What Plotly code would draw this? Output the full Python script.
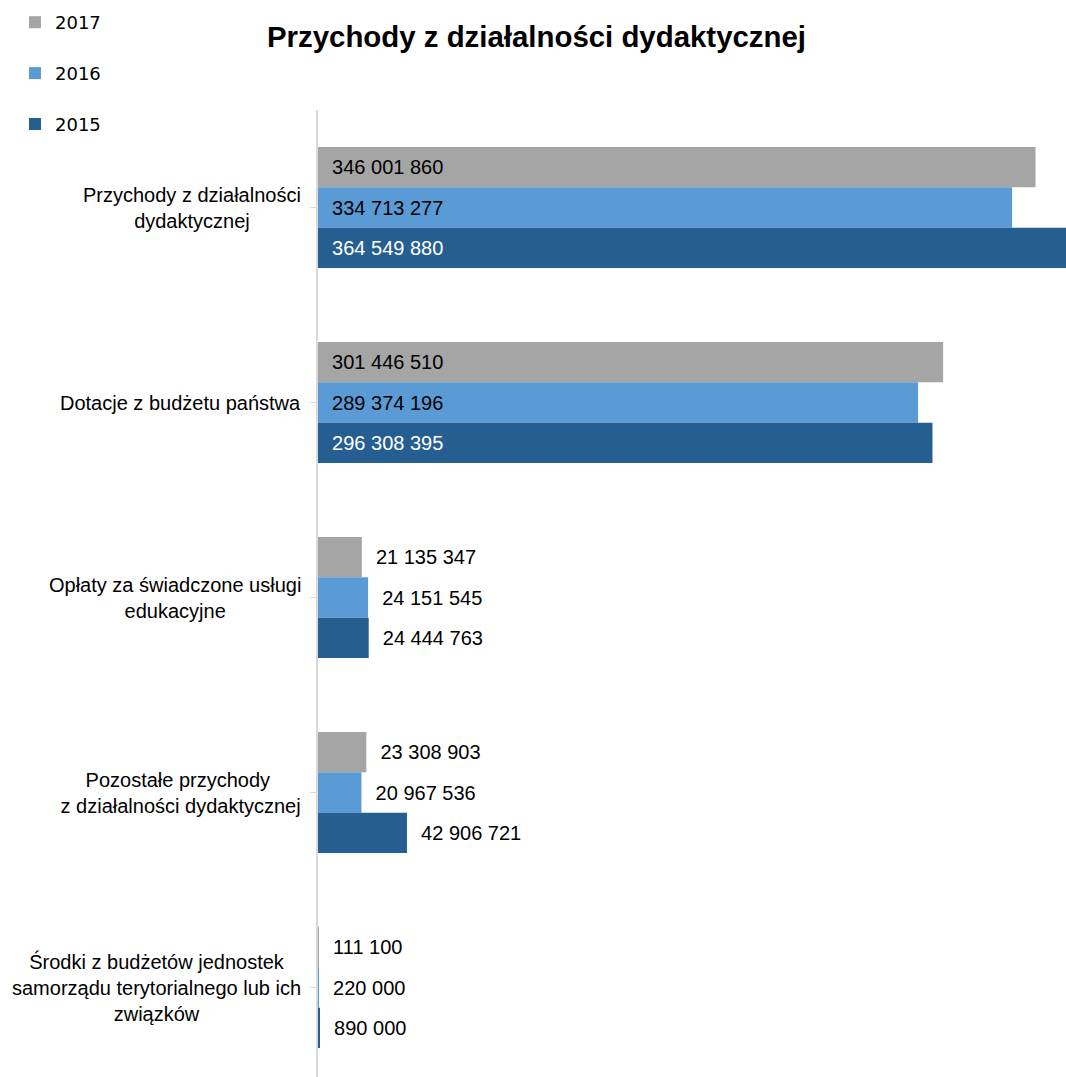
import plotly.graph_objects as go

categories = [
    "Przychody z działalności<br>dydaktycznej",
    "Dotacje z budżetu państwa",
    "Opłaty za świadczone usługi<br>edukacyjne",
    "Pozostałe przychody<br> z działalności dydaktycznej",
    "Środki z budżetów jednostek<br>samorządu terytorialnego lub ich<br>związków",
]
series_names = ["2017", "2016", "2015"]
values_2017 = [346001860, 301446510, 21135347, 23308903, 111100]
values_2016 = [334713277, 289374196, 24151545, 20967536, 220000]
values_2015 = [364549880, 296308395, 24444763, 42906721, 890000]
colors = ["#A5A5A5", "#5B9BD5", "#255E91"]
inside_text_colors = ["#000000", "#000000", "#FFFFFF"]

cat_ids = list(range(len(categories)))

def fmt(v):
    return f"{v:,}".replace(",", " ")

fig = go.Figure()
for name, vals, col, itc in zip(series_names, [values_2017, values_2016, values_2015], colors, inside_text_colors):
    positions = ["inside" if v > 100_000_000 else "outside" for v in vals]
    tcolors = [itc if p == "inside" else "#000000" for p in positions]
    fig.add_trace(go.Bar(
        name=name,
        y=cat_ids,
        x=vals,
        orientation="h",
        marker=dict(color=col, line=dict(width=0)),
        text=["\u00a0\u00a0" + fmt(v) for v in vals],
        textposition=positions,
        insidetextanchor="start",
        textfont=dict(family="Liberation Sans, Arial", size=20, color=tcolors),
        constraintext="none",
        cliponaxis=True,
        legendgroup=name,
        hoverinfo="skip",
    ))

for i, c in enumerate(categories):
    fig.add_annotation(
        x=0, xref="paper", y=i, yref="y",
        text=c, showarrow=False, xanchor="right", yanchor="middle",
        xshift=-15, align="center",
        font=dict(family="Liberation Sans, Arial", size=20, color="#000000"),
    )

fig.update_layout(
    width=1066, height=1077,
    margin=dict(l=318, r=0, t=110, b=0),
    paper_bgcolor="white", plot_bgcolor="white",
    barmode="group", bargap=0.38, bargroupgap=0,
    title=dict(
        text="<b>Przychody z działalności dydaktycznej</b>",
        x=536.5 / 1066, xref="container", xanchor="center",
        y=1 - 37 / 1077, yref="container", yanchor="middle",
        font=dict(family="Liberation Sans, Arial", size=29.4, color="#000000"),
    ),
    legend=dict(
        xref="container", yref="container",
        x=15 / 1066, y=1 - 4 / 1077, xanchor="left", yanchor="top",
        orientation="v", tracegroupgap=24.5, traceorder="grouped",
        font=dict(family="DejaVu Sans, Verdana", size=18, color="#000000"),
        bgcolor="rgba(0,0,0,0)",
    ),
    xaxis=dict(
        range=[0, 3.607e8], visible=False, showgrid=False, zeroline=False,
        fixedrange=True,
    ),
    yaxis=dict(
        tickmode="array", tickvals=cat_ids, ticktext=["" for _ in categories],
        range=[4.459, -0.5],
        showline=True, linecolor="#D9D9D9", linewidth=2,
        ticks="outside", tickson="boundaries", ticklen=6, tickcolor="#D9D9D9", tickwidth=1,
        showgrid=False, zeroline=False, fixedrange=True,
    ),
    showlegend=True,
)

fig.write_html(
    "out.html",
    config={"displayModeBar": False},
    post_script="document.body.style.margin='0';document.body.style.overflow='hidden';",
)
